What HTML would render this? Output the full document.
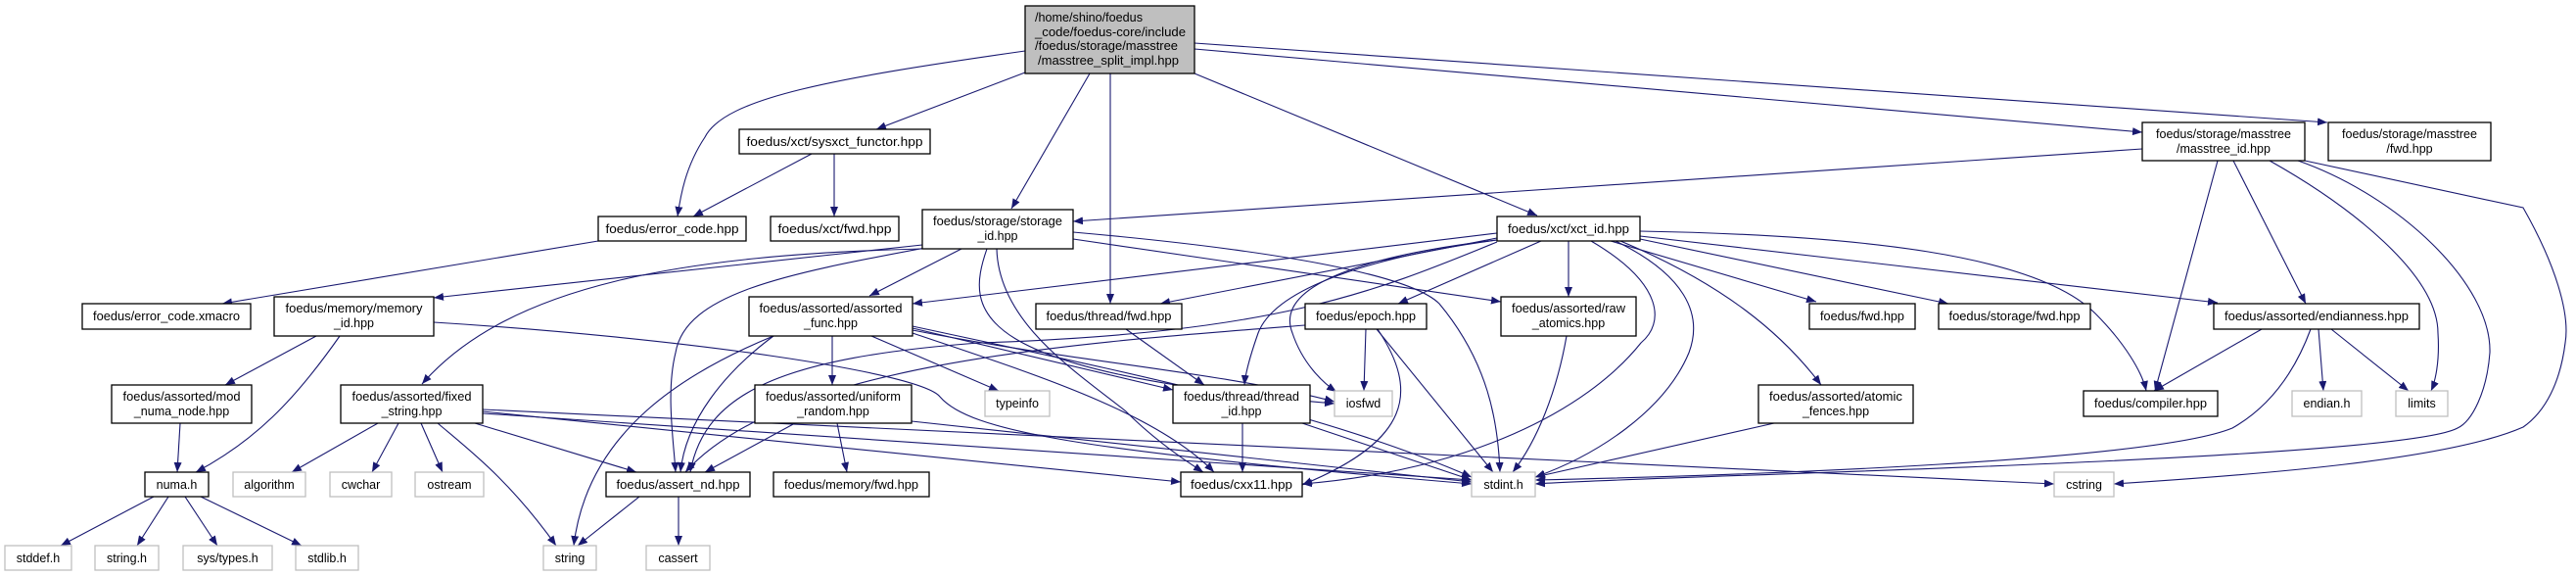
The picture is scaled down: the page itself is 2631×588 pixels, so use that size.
<!DOCTYPE html>
<html><head><meta charset="utf-8"><style>
html,body{margin:0;padding:0;background:#fff;}
svg{display:block;}
text{font-family:"Liberation Sans",Arial,sans-serif;font-size:12.5px;fill:#000;}
.e{fill:none;stroke:#191970;stroke-width:1.1;marker-end:url(#a);}
.n{fill:#fff;stroke:#000;stroke-width:1.3;}
.g{fill:#fff;stroke:#bfbfbf;stroke-width:1.3;}
</style></head><body>
<svg width="2631" height="588" viewBox="0 0 2631 588" xmlns="http://www.w3.org/2000/svg">
<defs><marker id="a" markerUnits="userSpaceOnUse" markerWidth="11" markerHeight="8" refX="10" refY="4" orient="auto"><path d="M0,0 L10,4 L0,8 z" fill="#191970"/></marker></defs>
<g>
<!-- main -->
<path class="e" d="M1047,52 C850,80 740,100 720,140 C700,170 695,200 692,221"/>
<path class="e" d="M1047,74 L895,132"/>
<path class="e" d="M1113,75 L1033,213"/>
<path class="e" d="M1134,75 L1134,310"/>
<path class="e" d="M1220,75 L1570,220"/>
<path class="e" d="M1220,50 L2188,135"/>
<path class="e" d="M1220,44 L2377,125"/>
<path class="e" d="M829,157 L708,221"/>
<path class="e" d="M852,157 L852,221"/>
<path class="e" d="M611,246 L227,310"/>
<!-- storage_id -->
<path class="e" d="M942,250 L443,304"/>
<path class="e" d="M942,254 C700,260 520,290 431,392"/>
<path class="e" d="M982,254 L888,302"/>
<path class="e" d="M945,253 C800,280 700,300 690,360 C680,400 688,450 690,482"/>
<path class="e" d="M1008,254 C985,320 990,380 1363,412"/>
<path class="e" d="M1018,254 C1020,330 1100,380 1150,420 C1180,450 1210,470 1229,482"/>
<path class="e" d="M1096,244 L1533,308"/>
<path class="e" d="M1096,237 C1300,255 1440,280 1470,310 C1520,370 1530,430 1532,482"/>
<!-- masstree_id -->
<path class="e" d="M2188,152 L1096,226"/>
<path class="e" d="M2265,164 L2201,399"/>
<path class="e" d="M2281,164 L2355,310"/>
<path class="e" d="M2318,164 C2400,210 2490,280 2490,340 C2492,370 2487,390 2483,399"/>
<path class="e" d="M2347,164 C2450,200 2545,290 2543,360 C2540,400 2525,430 2510,437 C2450,470 1700,485 1568,494"/>
<path class="e" d="M2354,164 L2577,212 C2610,270 2625,320 2620,350 C2615,390 2600,420 2577,436 C2500,470 2300,485 2159,494"/>
<!-- xct_id -->
<path class="e" d="M1574,246 L1428,310"/>
<path class="e" d="M1602,246 L1602,303"/>
<path class="e" d="M1645,246 L1855,308"/>
<path class="e" d="M1675,244 L1990,310"/>
<path class="e" d="M1675,241 L2265,309"/>
<path class="e" d="M1675,236 C1900,240 2080,260 2140,320 C2170,350 2188,380 2192,399"/>
<path class="e" d="M1529,238 L932,310"/>
<path class="e" d="M1529,243 L1185,310"/>
<path class="e" d="M1529,245 C1400,260 1300,290 1320,340 C1330,370 1350,390 1365,400"/>
<path class="e" d="M1529,245 C1380,265 1300,300 1285,340 C1278,360 1272,380 1271,393"/>
<path class="e" d="M1529,247 C1400,300 1300,340 1000,350 C800,365 720,400 705,482"/>
<path class="e" d="M1625,246 C1700,290 1700,330 1676,350 C1620,420 1500,480 1330,494"/>
<path class="e" d="M1650,246 C1720,280 1740,320 1725,360 C1700,420 1630,465 1568,487"/>
<path class="e" d="M1655,246 C1760,290 1820,340 1860,393"/>
<!-- memory_id -->
<path class="e" d="M323,343 L230,393"/>
<path class="e" d="M347,343 C300,410 260,450 200,482"/>
<path class="e" d="M443,329 C700,345 940,380 960,405 C990,440 1100,460 1503,494"/>
<path class="e" d="M184,432 L181,482"/>
<path class="e" d="M157,507 L62,557"/>
<path class="e" d="M172,507 L140,557"/>
<path class="e" d="M189,507 L222,557"/>
<path class="e" d="M205,507 L308,557"/>
<!-- fixed_string -->
<path class="e" d="M386,432 L298,482"/>
<path class="e" d="M407,432 L380,482"/>
<path class="e" d="M430,432 L452,482"/>
<path class="e" d="M447,432 C480,460 520,490 568,557"/>
<path class="e" d="M485,432 L650,482"/>
<path class="e" d="M493,420 L1206,492"/>
<path class="e" d="M493,422 L1503,490"/>
<path class="e" d="M493,418 L2098,494"/>
<!-- assorted_func -->
<path class="e" d="M790,343 C740,380 700,430 695,482"/>
<path class="e" d="M850,343 L850,393"/>
<path class="e" d="M890,343 L1020,399"/>
<path class="e" d="M932,335 L1198,398"/>
<path class="e" d="M932,337 C1100,370 1250,380 1363,410"/>
<path class="e" d="M790,343 C700,380 600,440 586,557"/>
<path class="e" d="M932,340 C1050,380 1180,420 1240,482"/>
<path class="e" d="M932,333 C1150,380 1350,420 1503,487"/>
<path class="e" d="M812,432 L720,482"/>
<path class="e" d="M855,432 L865,482"/>
<path class="e" d="M931,430 L1503,492"/>
<path class="e" d="M1150,336 L1230,393"/>
<path class="e" d="M1269,432 L1269,482"/>
<path class="e" d="M1330,432 L1503,490"/>
<!-- epoch -->
<path class="e" d="M1395,336 L1393,399"/>
<path class="e" d="M1406,336 L1525,482"/>
<path class="e" d="M1407,336 C1450,400 1440,450 1330,495"/>
<path class="e" d="M1333,332 C1100,350 800,370 700,482"/>
<path class="e" d="M1600,343 C1590,400 1570,450 1545,482"/>
<path class="e" d="M1812,432 L1568,487"/>
<!-- endianness -->
<path class="e" d="M2310,336 L2200,399"/>
<path class="e" d="M2368,336 L2373,399"/>
<path class="e" d="M2381,336 L2460,399"/>
<path class="e" d="M2360,336 C2340,390 2310,420 2280,437 C2200,470 1800,485 1568,490"/>
<path class="e" d="M653,507 L590,557"/>
<path class="e" d="M693,507 L693,557"/>
</g>
<g>
<rect x="1047" y="6" width="173" height="69" fill="#bfbfbf" stroke="#000" stroke-width="1.3"/>
<text x="1057" y="22" textLength="110" lengthAdjust="spacingAndGlyphs">/home/shino/foedus</text>
<text x="1057" y="37" textLength="154" lengthAdjust="spacingAndGlyphs">_code/foedus-core/include</text>
<text x="1057" y="51" textLength="146" lengthAdjust="spacingAndGlyphs">/foedus/storage/masstree</text>
<text x="1060" y="66" textLength="144" lengthAdjust="spacingAndGlyphs">/masstree_split_impl.hpp</text>
</g>
<g text-anchor="middle">
<rect class="n" x="755" y="132" width="195" height="25"/><text x="852.5" y="149" textLength="180" lengthAdjust="spacingAndGlyphs">foedus/xct/sysxct_functor.hpp</text>
<rect class="n" x="611" y="221" width="151" height="25"/><text x="686.5" y="238" textLength="136" lengthAdjust="spacingAndGlyphs">foedus/error_code.hpp</text>
<rect class="n" x="787" y="221" width="131" height="25"/><text x="852.5" y="238" textLength="116" lengthAdjust="spacingAndGlyphs">foedus/xct/fwd.hpp</text>
<rect class="n" x="942" y="214" width="154" height="40"/><text x="1019" y="230" textLength="132" lengthAdjust="spacingAndGlyphs">foedus/storage/storage</text><text x="1019" y="245">_id.hpp</text>
<rect class="n" x="2188" y="125" width="166" height="39"/><text x="2271" y="141" textLength="138" lengthAdjust="spacingAndGlyphs">foedus/storage/masstree</text><text x="2271" y="156">/masstree_id.hpp</text>
<rect class="n" x="2378" y="125" width="166" height="39"/><text x="2461" y="141" textLength="138" lengthAdjust="spacingAndGlyphs">foedus/storage/masstree</text><text x="2461" y="156">/fwd.hpp</text>
<rect class="n" x="1529" y="221" width="146" height="25"/><text x="1602" y="238" textLength="124" lengthAdjust="spacingAndGlyphs">foedus/xct/xct_id.hpp</text>
<rect class="n" x="84" y="310" width="172" height="26"/><text x="170" y="327" textLength="150" lengthAdjust="spacingAndGlyphs">foedus/error_code.xmacro</text>
<rect class="n" x="280" y="303" width="163" height="40"/><text x="361.5" y="319" textLength="140" lengthAdjust="spacingAndGlyphs">foedus/memory/memory</text><text x="361.5" y="334">_id.hpp</text>
<rect class="n" x="765" y="303" width="167" height="40"/><text x="848.5" y="319" textLength="146" lengthAdjust="spacingAndGlyphs">foedus/assorted/assorted</text><text x="848.5" y="334">_func.hpp</text>
<rect class="n" x="1058" y="310" width="149" height="26"/><text x="1132.5" y="327" textLength="128" lengthAdjust="spacingAndGlyphs">foedus/thread/fwd.hpp</text>
<rect class="n" x="1333" y="310" width="124" height="26"/><text x="1395" y="327" textLength="102" lengthAdjust="spacingAndGlyphs">foedus/epoch.hpp</text>
<rect class="n" x="1533" y="303" width="138" height="40"/><text x="1602" y="319" textLength="116" lengthAdjust="spacingAndGlyphs">foedus/assorted/raw</text><text x="1602" y="334">_atomics.hpp</text>
<rect class="n" x="1848" y="310" width="108" height="26"/><text x="1902" y="327" textLength="86" lengthAdjust="spacingAndGlyphs">foedus/fwd.hpp</text>
<rect class="n" x="1980" y="310" width="155" height="26"/><text x="2057.5" y="327" textLength="134" lengthAdjust="spacingAndGlyphs">foedus/storage/fwd.hpp</text>
<rect class="n" x="2261" y="310" width="210" height="26"/><text x="2366" y="327" textLength="188" lengthAdjust="spacingAndGlyphs">foedus/assorted/endianness.hpp</text>
<rect class="n" x="114" y="393" width="143" height="39"/><text x="185.5" y="409" textLength="120" lengthAdjust="spacingAndGlyphs">foedus/assorted/mod</text><text x="185.5" y="424">_numa_node.hpp</text>
<rect class="n" x="348" y="393" width="145" height="39"/><text x="420.5" y="409" textLength="122" lengthAdjust="spacingAndGlyphs">foedus/assorted/fixed</text><text x="420.5" y="424">_string.hpp</text>
<rect class="n" x="771" y="393" width="160" height="39"/><text x="851" y="409" textLength="138" lengthAdjust="spacingAndGlyphs">foedus/assorted/uniform</text><text x="851" y="424">_random.hpp</text>
<rect class="g" x="1006" y="399" width="66" height="26"/><text x="1039" y="416">typeinfo</text>
<rect class="n" x="1198" y="393" width="140" height="39"/><text x="1268" y="409" textLength="118" lengthAdjust="spacingAndGlyphs">foedus/thread/thread</text><text x="1268" y="424">_id.hpp</text>
<rect class="g" x="1363" y="399" width="59" height="26"/><text x="1392.5" y="416">iosfwd</text>
<rect class="n" x="1796" y="393" width="158" height="39"/><text x="1875" y="409" textLength="136" lengthAdjust="spacingAndGlyphs">foedus/assorted/atomic</text><text x="1875" y="424">_fences.hpp</text>
<rect class="n" x="2128" y="399" width="137" height="26"/><text x="2196.5" y="416" textLength="115" lengthAdjust="spacingAndGlyphs">foedus/compiler.hpp</text>
<rect class="g" x="2341" y="399" width="71" height="26"/><text x="2376.5" y="416">endian.h</text>
<rect class="g" x="2447" y="399" width="53" height="26"/><text x="2473.5" y="416">limits</text>
<rect class="n" x="148" y="482" width="65" height="25"/><text x="180.5" y="499">numa.h</text>
<rect class="g" x="238" y="482" width="74" height="25"/><text x="275" y="499">algorithm</text>
<rect class="g" x="337" y="482" width="63" height="25"/><text x="368.5" y="499">cwchar</text>
<rect class="g" x="424" y="482" width="70" height="25"/><text x="459" y="499">ostream</text>
<rect class="n" x="619" y="482" width="147" height="25"/><text x="692.5" y="499" textLength="126" lengthAdjust="spacingAndGlyphs">foedus/assert_nd.hpp</text>
<rect class="n" x="790" y="482" width="159" height="25"/><text x="869.5" y="499" textLength="137" lengthAdjust="spacingAndGlyphs">foedus/memory/fwd.hpp</text>
<rect class="n" x="1206" y="482" width="124" height="25"/><text x="1268" y="499" textLength="104" lengthAdjust="spacingAndGlyphs">foedus/cxx11.hpp</text>
<rect class="g" x="1503" y="482" width="65" height="25"/><text x="1535.5" y="499">stdint.h</text>
<rect class="g" x="2098" y="482" width="61" height="25"/><text x="2128.5" y="499">cstring</text>
<rect class="g" x="5" y="557" width="68" height="25"/><text x="39" y="574">stddef.h</text>
<rect class="g" x="97" y="557" width="65" height="25"/><text x="129.5" y="574">string.h</text>
<rect class="g" x="187" y="557" width="91" height="25"/><text x="232.5" y="574">sys/types.h</text>
<rect class="g" x="302" y="557" width="64" height="25"/><text x="334" y="574">stdlib.h</text>
<rect class="g" x="555" y="557" width="54" height="25"/><text x="582" y="574">string</text>
<rect class="g" x="660" y="557" width="65" height="25"/><text x="692.5" y="574">cassert</text>
</g>
</svg>
</body></html>
